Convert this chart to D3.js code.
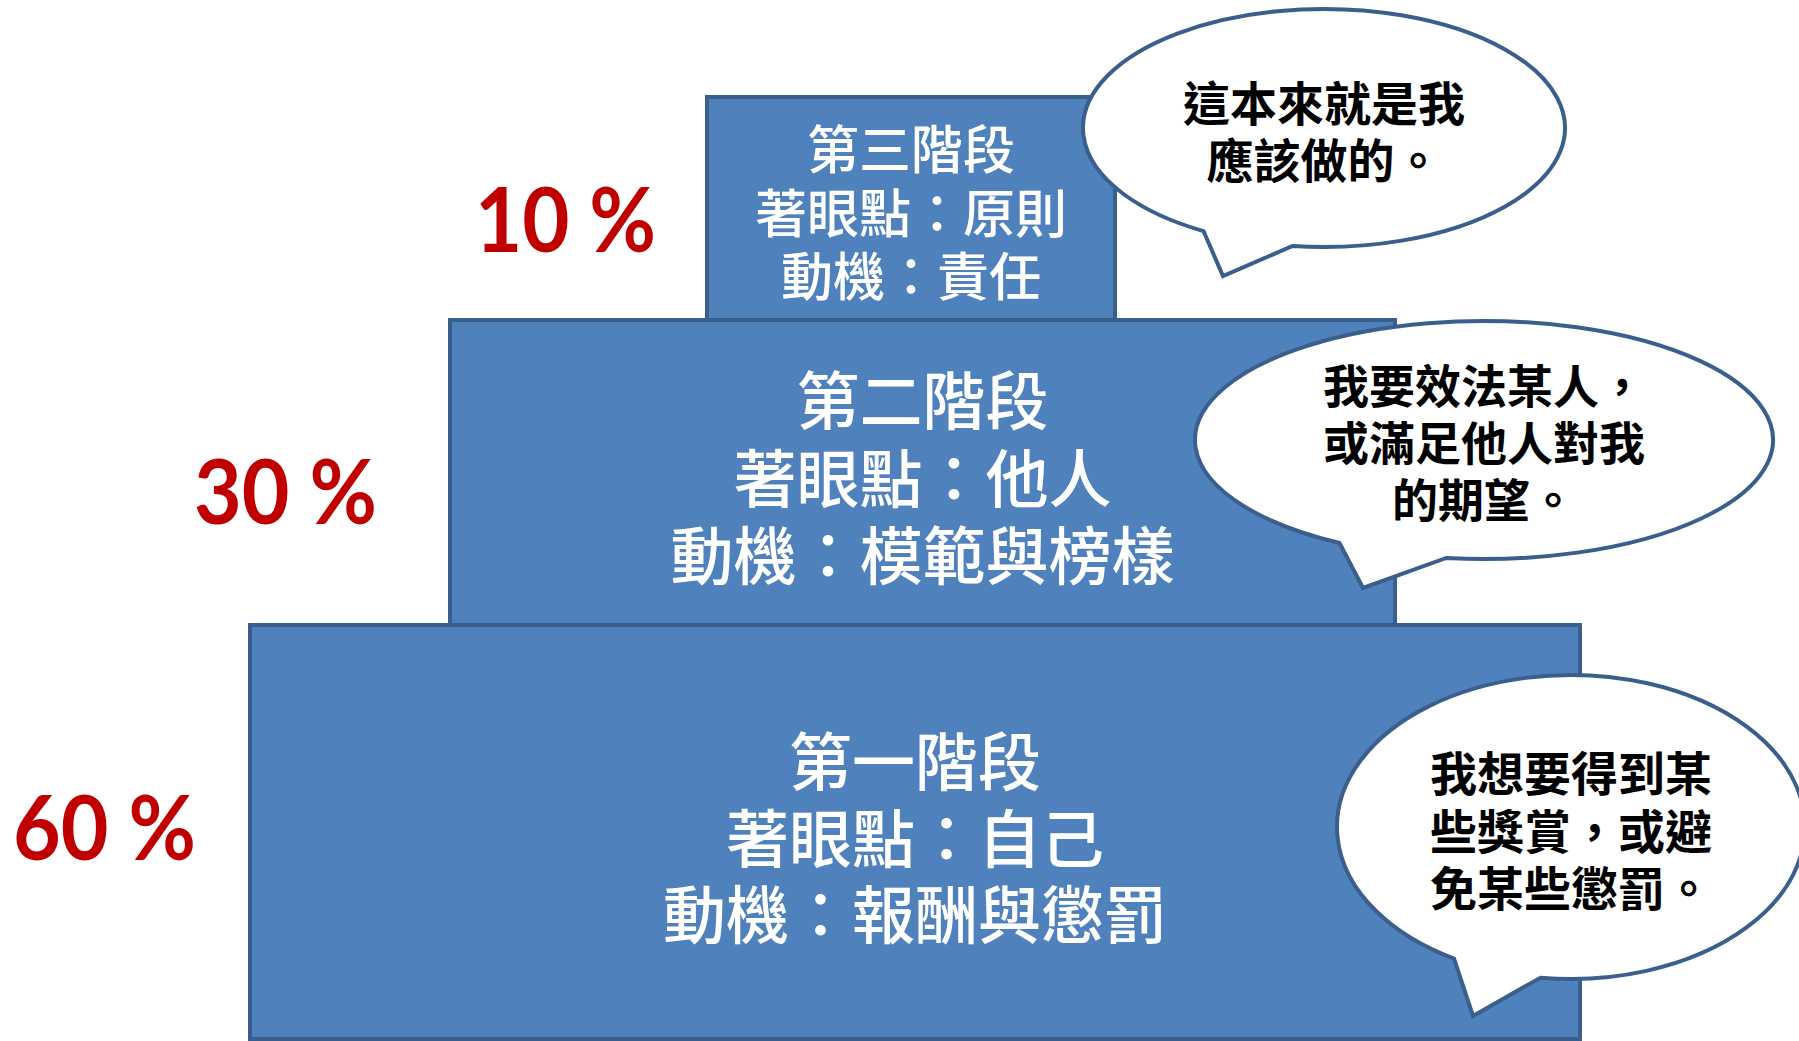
<!DOCTYPE html>
<html><head><meta charset="utf-8">
<script src="https://cdn.jsdelivr.net/npm/d3@7"></script>
<style>
html,body{margin:0;padding:0;background:#fff;overflow:hidden;}
svg{display:block;}
</style></head>
<body>
<svg id="c" width="1799" height="1041"></svg>
<script>
// ---- data ----
const stages   = ['第一階段', '第二階段', '第三階段'];
const percents = [60, 30, 10];
const focus    = ['自己', '他人', '原則'];
const motives  = ['報酬與懲罰', '模範與榜樣', '責任'];
const bubbleLines = [
  ['我想要得到某', '些獎賞，或避', '免某些懲罰。'],
  ['我要效法某人，', '或滿足他人對我', '的期望。'],
  ['這本來就是我', '應該做的。']
];

// ---- layout (geometry, not data) ----
const levels = [0, 1, 2];
const rectX0 = d3.scaleOrdinal().domain(levels).range([250, 450, 707]);
const rectX1 = d3.scaleOrdinal().domain(levels).range([1580, 1395, 1115]);
const rectY0 = d3.scaleOrdinal().domain(levels).range([625, 320, 97]);
const rectY1 = d3.scaleOrdinal().domain(levels).range([1039, 625, 320]);
const lineY  = d3.scaleOrdinal().domain(levels).range([[757, 834, 910], [396, 474, 551], [146, 210, 273]]);
const fontPx = d3.scaleOrdinal().domain(levels).range([63, 63, 52]);
const pctX   = d3.scaleOrdinal().domain(levels).range([196, 377, 656]);
const pctY   = d3.scaleOrdinal().domain(levels).range([860, 524, 252]);
const pctW   = d3.scaleOrdinal().domain(levels).range([183, 183, 181]);
const bubble = d3.scaleOrdinal().domain(levels).range([
  {cx: 1571, cy: 827, rx: 234, ry: 152, tip: [1473, 1016], lines: [770, 828, 885], fs: 47},
  {cx: 1484, cy: 440, rx: 289, ry: 119, tip: [1363, 588], lines: [383, 440, 497], fs: 46},
  {cx: 1324, cy: 128, rx: 241, ry: 119, tip: [1223, 276], lines: [100, 157], fs: 47}
]);
const tailA0 = 97.5 * Math.PI / 180, tailA1 = 120 * Math.PI / 180;

const FILL = '#4F81BD', STROKE = '#3A5F8C', RED = '#C00000';
const svg = d3.select('#c');

// rectangles
svg.append('g').selectAll('rect').data(levels).join('rect')
  .attr('x', d => rectX0(d)).attr('y', d => rectY0(d))
  .attr('width', d => rectX1(d) - rectX0(d))
  .attr('height', d => rectY1(d) - rectY0(d))
  .attr('fill', FILL).attr('stroke', STROKE).attr('stroke-width', 4);

// rectangle texts
const tg = svg.append('g').selectAll('g').data(levels).join('g');
tg.each(function(d) {
  const lines = [stages[d], '著眼點：' + focus[d], '動機：' + motives[d]];
  const cx = (rectX0(d) + rectX1(d)) / 2;
  d3.select(this).selectAll('text').data(lines).join('text')
    .attr('x', cx).attr('y', (t, i) => lineY(d)[i])
    .attr('text-anchor', 'middle').attr('dominant-baseline', 'central')
    .attr('fill', '#fff')
    .style('font-family', '"Noto Sans CJK TC", "Noto Sans CJK SC", sans-serif')
    .style('font-weight', 500)
    .style('font-size', fontPx(d) + 'px')
    .text(t => t);
});

// percent labels
svg.append('g').selectAll('text').data(levels).join('text')
  .attr('x', d => pctX(d)).attr('y', d => pctY(d))
  .attr('text-anchor', 'end')
  .attr('textLength', d => pctW(d))
  .attr('lengthAdjust', 'spacingAndGlyphs')
  .attr('fill', RED)
  .style('font-family', 'Lato, "Open Sans", sans-serif')
  .style('font-weight', 700)
  .style('font-size', '89px')
  .text(d => percents[d] + ' %');

// speech bubbles
function bubblePath(b) {
  const p0 = [b.cx + b.rx * Math.cos(tailA0), b.cy + b.ry * Math.sin(tailA0)];
  const p1 = [b.cx + b.rx * Math.cos(tailA1), b.cy + b.ry * Math.sin(tailA1)];
  return `M${p0[0]},${p0[1]} A${b.rx},${b.ry} 0 1 0 ${p1[0]},${p1[1]} L${b.tip[0]},${b.tip[1]} Z`;
}
const bg = svg.append('g').selectAll('g').data(levels).join('g');
bg.append('path')
  .attr('d', d => bubblePath(bubble(d)))
  .attr('fill', '#fff').attr('stroke', STROKE).attr('stroke-width', 4)
  .attr('stroke-linejoin', 'miter');
bg.each(function(d) {
  const b = bubble(d);
  d3.select(this).selectAll('text').data(bubbleLines[d]).join('text')
    .attr('x', b.cx).attr('y', (t, i) => b.lines[i])
    .attr('text-anchor', 'middle').attr('dominant-baseline', 'central')
    .attr('fill', '#000')
    .style('font-family', '"Noto Sans CJK TC", "Noto Sans CJK SC", sans-serif')
    .style('font-weight', 700)
    .style('font-size', b.fs + 'px')
    .text(t => t);
});
</script>
</body></html>
